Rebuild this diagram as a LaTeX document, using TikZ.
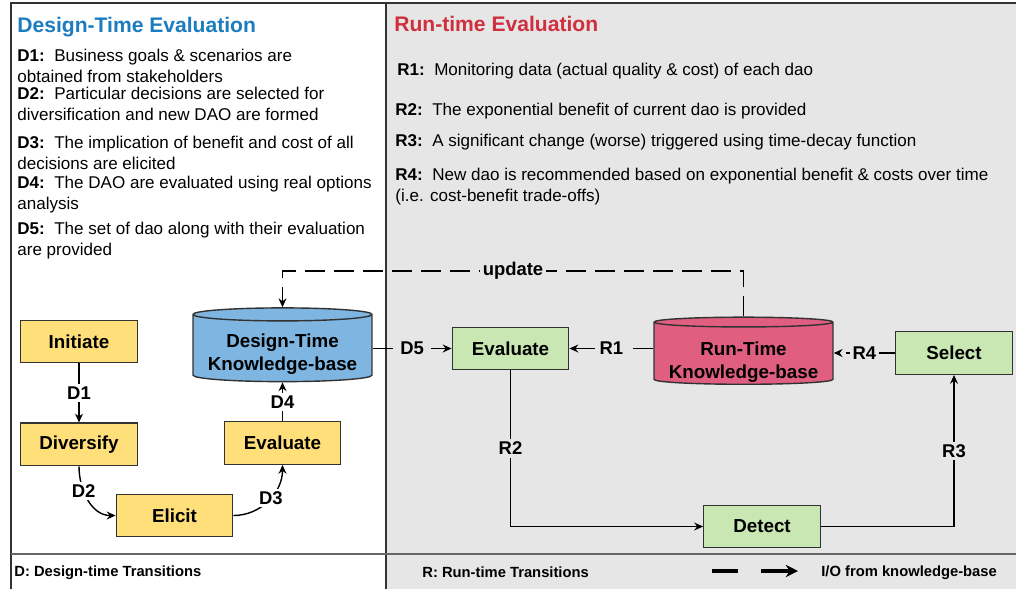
\documentclass[tikz,border=0pt]{standalone}
\usepackage{fontspec}
\setmainfont{Liberation Sans}
\usetikzlibrary{positioning,arrows.meta,shapes.geometric,calc}
\definecolor{dtblue}{RGB}{28,124,192}
\definecolor{rtred}{RGB}{208,47,62}
\definecolor{stagefill}{RGB}{255,223,122}
\definecolor{runfill}{RGB}{201,231,178}
\definecolor{dtkbfill}{RGB}{126,182,225}
\definecolor{rtkbfill}{RGB}{224,94,128}
\definecolor{panelgray}{RGB}{230,230,230}
\definecolor{edgegray}{RGB}{50,50,50}

\begin{document}
\begin{tikzpicture}[
    x=0.02cm, y=-0.02cm,
    stage/.style={rectangle, draw=edgegray, fill=stagefill, line width=0.8pt, minimum width=2.33cm, minimum height=0.85cm, font=\fontsize{10.7}{12}\selectfont\bfseries},
    runbox/.style={stage, fill=runfill},
    kbase/.style={cylinder, shape border rotate=90, draw=edgegray, line width=0.8pt, align=center, minimum width=3.58cm, aspect=0.085, inner sep=1pt, font=\fontsize{10.7}{13}\selectfont\bfseries},
    lbl/.style={fill=white, inner sep=1.5pt, font=\fontsize{10.5}{12}\selectfont\bfseries},
    rlbl/.style={lbl, fill=panelgray},
    arrow/.style={-{Stealth[length=5pt,width=4.5pt]}, line width=0.8pt},
    io/.style={arrow, dash pattern=on 0.4cm off 0.18cm, line width=1pt},
    note/.style={anchor=west, align=left, inner sep=0pt, font=\fontsize{9.7}{11.9}\selectfont},
    heading/.style={anchor=west, inner sep=0pt, font=\fontsize{12}{14}\selectfont\bfseries},
    key/.style={anchor=west, inner sep=0pt, font=\fontsize{8.4}{10}\selectfont\bfseries}
]
\useasboundingbox (0,0) rectangle (1016,589);

% Panels
\fill[panelgray] (386,3) rectangle (1016,589);
\draw[edgegray, line width=1.2pt] (11,589) -- (11,3) -- (1016,3);
\draw[edgegray, line width=1pt] (386,3) -- (386,589);
\draw[gray!80!black, line width=1pt] (11,554) -- (1016,554);

% Headings
\node[heading, text=dtblue] (dthead) at (17,27.5) {Design-Time Evaluation};
\node[heading, text=rtred] (rthead) at (394,23.5) {Run-time Evaluation};

% Design-time notes
\node[note] (d1note) at (17,66) {\textbf{D1:}\ \ Business goals \& scenarios are\\obtained from stakeholders};
\node[note] (d2note) at (17,104) {\textbf{D2:}\ \ Particular decisions are selected for\\diversification and new DAO are formed};
\node[note] (d3note) at (17,153) {\textbf{D3:}\ \ The implication of benefit and cost of all\\decisions are elicited};
\node[note] (d4note) at (17,194.5) {\textbf{D4:}\ \ The DAO are evaluated using real options\\analysis};
\node[note] (d5note) at (17,240.5) {\textbf{D5:}\ \ The set of dao along with their evaluation\\are provided};

% Run-time notes
\node[note] (r1note) at (397,71.5) {\textbf{R1:}\ \ Monitoring data (actual quality \& cost) of each dao};
\node[note] (r2note) at (395,111.5) {\textbf{R2:}\ \ The exponential benefit of current dao is provided};
\node[note] (r3note) at (395,142.5) {\textbf{R3:}\ \ A significant change (worse) triggered using time-decay function};
\node[note] (r4note) at (395,187) {\textbf{R4:}\ \ New dao is recommended based on exponential benefit \& costs over time\\(i.e. cost-benefit trade-offs)};

% Design-time stages
\node[stage] (init) at (79,341.5) {Initiate};
\node[stage, below=1.18cm of init] (divers) {Diversify};
\node[stage] (elicit) at (174.5,515.5) {Elicit};
\node[stage] (dteval) at (282.5,443) {Evaluate};
\node[kbase, fill=dtkbfill, minimum height=1.19cm, text height=27pt, text depth=2.2pt] (dtkb) at (282.5,349) {Design-Time\\Knowledge-base};

% Run-time stages
\node[runbox] (rteval) at (510.5,348.5) {Evaluate};
\node[kbase, fill=rtkbfill, minimum height=1.11cm, aspect=0.064, text height=28pt, text depth=-4pt] (rtkb) at (743.5,354) {Run-Time\\Knowledge-base};
\node[runbox] (select) at (954,353) {Select};
\node[runbox] (detect) at (762,526.5) {Detect};

% Design-time transitions
\draw[arrow] (init) -- node[lbl] {D1} (divers);
\draw[arrow] (divers.south) to[out=-90, in=180] node[lbl, pos=0.35] {D2} (elicit.west);
\draw[arrow] (elicit.east) to[out=0, in=-90] node[lbl, pos=0.55] {D3} (dteval.south);
\draw[arrow] (dteval) -- node[lbl] {D4} (dtkb);

% Run-time transitions
\draw[io] (dtkb.east |- rteval.west) -- node[rlbl] {D5} (rteval.west);
\draw[io] (rtkb.west |- rteval.east) -- node[rlbl] {R1} (rteval.east);
\draw[io] (select.west) -- node[rlbl] {R4} (select.west -| rtkb.east);
\draw[arrow] (rteval.south) |- node[rlbl, pos=0.25] {R2} (detect.west);
\draw[arrow] (detect.east) -| node[rlbl, pos=0.75] {R3} (select.south);
\draw[io] (rtkb.north) |- node[rlbl, pos=0.75] {update} ($(dtkb.north)+(0,-36)$) -- (dtkb.north);

% Legend
\node[key] (dkey) at (14,572.5) {D: Design-time Transitions};
\node[key] (rkey) at (422,572.5) {R: Run-time Transitions};
\node[key] (iokey) at (821,572.5) {I/O from knowledge-base};
\coordinate (dashA) at (712,571);
\coordinate (dashB) at (738,571);
\coordinate (arrA) at (761,571);
\coordinate (arrB) at (798,571);
\draw[line width=2pt] (dashA) -- (dashB);
\draw[-{Stealth[length=7pt,width=7pt]}, line width=2pt] (arrA) -- (arrB);

\end{tikzpicture}
\end{document}
